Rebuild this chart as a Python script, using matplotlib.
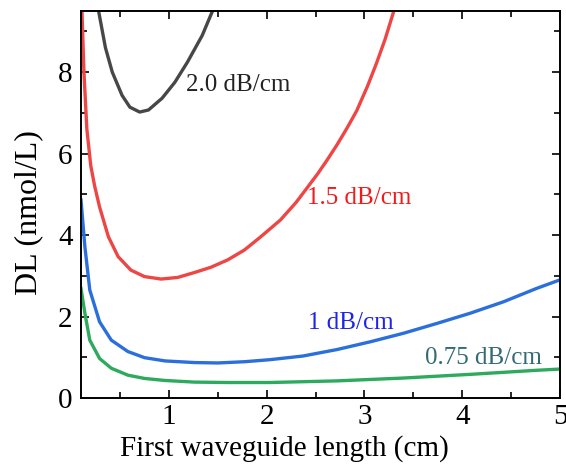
import matplotlib
matplotlib.use('Agg')
import matplotlib.pyplot as plt
from matplotlib.ticker import MultipleLocator

plt.rcParams['font.family'] = ['Liberation Serif', 'DejaVu Serif']

# detection limit vs. first waveguide length, one curve per propagation loss
x_20 = [0.28, 0.35, 0.42, 0.52, 0.60, 0.70, 0.79, 0.93, 1.06, 1.19, 1.34, 1.44]
y_20 = [9.50, 8.60, 8.00, 7.43, 7.14, 7.02, 7.07, 7.36, 7.75, 8.25, 8.90, 9.47]

x_15 = [0.11, 0.13, 0.16, 0.20, 0.24, 0.29, 0.38, 0.48, 0.61, 0.75, 0.92, 1.09,
        1.26, 1.43, 1.60, 1.77, 1.94, 2.14, 2.30, 2.41, 2.52, 2.62, 2.72, 2.82,
        2.92, 3.03, 3.12, 3.21, 3.30]
y_15 = [9.50, 8.00, 6.60, 5.70, 5.20, 4.69, 3.96, 3.47, 3.14, 2.98, 2.92, 2.96,
        3.08, 3.21, 3.39, 3.63, 3.96, 4.37, 4.80, 5.15, 5.50, 5.85, 6.22, 6.62,
        7.05, 7.65, 8.20, 8.80, 9.50]

x_10 = [0.10, 0.14, 0.19, 0.29, 0.41, 0.58, 0.75, 0.96, 1.26, 1.50, 1.77, 2.03,
        2.37, 2.72, 3.06, 3.40, 3.74, 4.08, 4.42, 4.76, 5.00]
y_10 = [4.86, 3.71, 2.65, 1.87, 1.42, 1.14, 0.99, 0.91, 0.87, 0.86, 0.89, 0.94,
        1.03, 1.19, 1.38, 1.59, 1.83, 2.08, 2.36, 2.69, 2.90]

x_075 = [0.10, 0.14, 0.19, 0.29, 0.41, 0.58, 0.75, 0.96, 1.26, 1.60, 2.03, 2.72,
         3.40, 4.08, 4.76, 5.00]
y_075 = [2.69, 2.08, 1.42, 0.97, 0.73, 0.56, 0.48, 0.43, 0.39, 0.38, 0.38, 0.42,
         0.49, 0.58, 0.68, 0.71]

labels = ['2.0 dB/cm', '1.5 dB/cm', '1 dB/cm', '0.75 dB/cm']
label_x = [1.17, 2.41, 2.42, 3.62]
label_y = [7.68, 4.91, 1.84, 0.98]

line_colors = ['#474747', '#ee4545', '#2b6fdc', '#2eaa5e']
text_colors = ['#222222', '#f01c1c', '#1f24e6', '#336b74']

fig = plt.figure(figsize=(5.66, 4.69), dpi=100)
ax = fig.add_axes([0.1431, 0.1514, 0.8463, 0.8251])

curves = [(x_20, y_20), (x_15, y_15), (x_10, y_10), (x_075, y_075)]
for (xs, ys), lc in zip(curves, line_colors):
    ax.plot(xs, ys, color=lc, linewidth=2.4, solid_joinstyle='round')

for lab, lx, ly, tc in zip(labels, label_x, label_y, text_colors):
    ax.text(lx, ly, lab, color=tc, fontsize=18, ha='left', va='center')

ax.set_xlim(0.1, 5)
ax.set_ylim(0, 9.5)
ax.xaxis.set_major_locator(MultipleLocator(1))
ax.xaxis.set_minor_locator(MultipleLocator(0.5))
ax.yaxis.set_major_locator(MultipleLocator(2))
ax.yaxis.set_minor_locator(MultipleLocator(1))
ax.tick_params(which='both', direction='in', top=True, right=True,
               width=1.2, labelsize=21)
ax.tick_params(which='major', length=6)
ax.tick_params(which='minor', length=4)
ax.tick_params(axis='x', pad=4)
ax.tick_params(axis='y', pad=6)
for sp in ax.spines.values():
    sp.set_linewidth(1.4)

ax.set_xlabel('First waveguide length (cm)', fontsize=21)
ax.set_ylabel('DL (nmol/L)', fontsize=23)
ax.xaxis.set_label_coords(0.424, -0.0956)
ax.yaxis.set_label_coords(-0.079, 0.478)

fig.savefig('out.png', dpi=100)
